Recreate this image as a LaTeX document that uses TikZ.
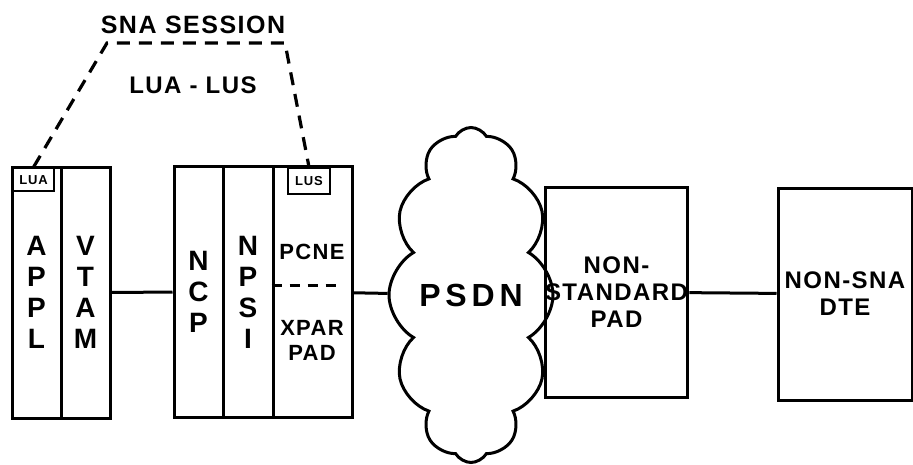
\documentclass[tikz,border=0pt]{standalone}
\usepackage{fontspec}
\usepackage{tikz}
\usetikzlibrary{positioning,shapes.symbols}
\newfontfamily\lettering[LetterSpace=6]{Liberation Sans Bold}

\begin{document}
\begin{tikzpicture}[x=1pt, y=-1pt,
  col/.style={draw, line width=3pt, minimum width=49pt, minimum height=251pt, inner sep=0pt, align=center, font=\lettering\fontsize{28}{31}\selectfont},
  tag/.style={draw, line width=2.2pt, inner sep=0pt, font=\lettering\fontsize{13}{14}\selectfont},
  unit/.style={draw, line width=3pt, minimum width=134pt, minimum height=211pt, inner sep=0pt, align=center, font=\lettering\fontsize{24}{27}\selectfont},
  lbl/.style={align=center, inner sep=0pt, font=\lettering\fontsize{22}{25}\selectfont},
  link/.style={line width=3pt},
  session/.style={line width=3.2pt, dash pattern=on 13pt off 9pt}]
\useasboundingbox (0,0) rectangle (913,464);
% host side
\node[col] (appl) at (36.5,292.5) {A\\P\\P\\L};
\node[col] (vtam) at (85.5,292.5) {V\\T\\A\\M};
\node[tag, minimum width=41pt, minimum height=23pt, anchor=north west] (lua) at (12,167) {LUA};
% front end
\node[col] (ncp) at (198.5,292) {N\\C\\P};
\node[col, minimum width=50pt] (npsi) at (248,292) {N\\P\\S\\I};
\node[col, minimum width=79pt] (xpar) at (312.5,292) {};
\node[tag, minimum width=42pt, minimum height=26pt, anchor=north] (lus) at (309,167) {LUS};
\node[lbl] (pcne) at (312,252) {PCNE};
\node[lbl] (xpad) at (312,340) {XPAR\\PAD};
\draw[link, dash pattern=on 10pt off 8pt] (xpar.west |- 0,285) -- (342,285);
% network
\node[cloud, draw, line width=3pt, cloud puffs=12, cloud puff arc=120, cloud ignores aspect, minimum width=164pt, minimum height=335pt, inner sep=0pt, font=\lettering\fontsize{32}{34}\selectfont\addfontfeatures{LetterSpace=15}] (psdn) at (471,295) {PSDN};
\node[unit, minimum width=133pt, minimum height=210pt] (pad) at (616.5,292) {NON-\\STANDARD\\PAD};
\node[unit, minimum height=212pt] (dte) at (845,294) {NON-SNA\\DTE};
% session
\node[lbl, font=\lettering\fontsize{25}{27}\selectfont] (sess) at (193,25) {SNA SESSION};
\node[lbl, font=\lettering\fontsize{24}{27}\selectfont] (pair) at (193,85) {LUA - LUS};
\coordinate (sl) at (107,43);
\coordinate (sr) at (285,43);
\draw[session] (lua.north) -- (sl) -- (sr) -- (lus.north);
\draw[link] (vtam) -- (ncp); \draw[link] (xpar) -- (psdn); \draw[link] (pad) -- (dte);
\end{tikzpicture}
\end{document}
